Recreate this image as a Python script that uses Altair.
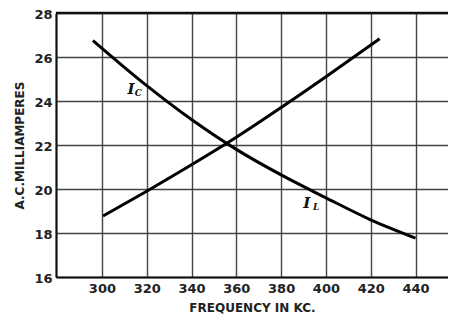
import altair as alt
import pandas as pd

# I_C curve (capacitor branch current)
ic_freq = [296, 320, 340, 360, 380, 400, 420, 440]
ic_ma = [26.75, 24.7, 23.16, 21.8, 20.64, 19.6, 18.6, 17.77]

# I_L curve (inductor branch current)
il_freq = [300.5, 320, 340, 360, 380, 400, 424]
il_ma = [18.77, 19.9, 21.1, 22.35, 23.7, 25.1, 26.83]

x_ticks = [300, 320, 340, 360, 380, 400, 420, 440]
y_ticks = [16, 18, 20, 22, 24, 26, 28]

# curve labels: main letter and subscript
lab_main = ["I", "I"]
lab_sub = ["C", "L"]
lab_x = [313, 391.4]
lab_y = [24.53, 19.37]
sub_x = [316.3, 395.6]
sub_y = [24.36, 19.2]

curves = pd.DataFrame(
    {"f": ic_freq + il_freq,
     "ma": ic_ma + il_ma,
     "s": ["IC"] * len(ic_freq) + ["IL"] * len(il_freq)}
)
labels = pd.DataFrame({"f": lab_x, "ma": lab_y, "t": lab_main})
subs = pd.DataFrame({"f": sub_x, "ma": sub_y, "t": lab_sub})

xs = alt.Scale(domain=[279.5, 454.5], nice=False, zero=False)
ys = alt.Scale(domain=[16, 28], nice=False, zero=False)

base_font = "DejaVu Sans"

x_axis = alt.Axis(values=x_ticks, title="FREQUENCY IN KC.", ticks=False,
                  labelPadding=5, labelFont=base_font, labelFontSize=13,
                  labelFontWeight="bold", labelColor="#222",
                  titleFont=base_font, titleFontSize=12, titleFontWeight="bold",
                  titleColor="#222", titlePadding=7,
                  grid=True, gridColor="#444", gridWidth=1.4,
                  domainColor="#111", domainWidth=2.2)
y_axis = alt.Axis(values=y_ticks, title="A.C.MILLIAMPERES", ticks=False,
                  labelPadding=4, labelOffset=1.5, labelFont=base_font,
                  labelFontSize=13,
                  labelFontWeight="bold", labelColor="#222",
                  titleFont=base_font, titleFontSize=12, titleFontWeight="bold",
                  titleColor="#222", titlePadding=7,
                  grid=True, gridColor="#444", gridWidth=1.4,
                  domainColor="#111", domainWidth=2.2)

lines = alt.Chart(curves).mark_line(color="black", strokeWidth=3,
                                    interpolate="monotone").encode(
    x=alt.X("f:Q", scale=xs, axis=x_axis),
    y=alt.Y("ma:Q", scale=ys, axis=y_axis),
    detail="s:N",
)

top = alt.Chart(pd.DataFrame({"ma": [28]})).mark_rule(
    color="#111", strokeWidth=2.5).encode(y=alt.Y("ma:Q", scale=ys))

main_txt = alt.Chart(labels).mark_text(
    font="DejaVu Serif", fontSize=15, fontStyle="italic", fontWeight="bold",
    color="#111").encode(
    x=alt.X("f:Q", scale=xs), y=alt.Y("ma:Q", scale=ys), text="t:N")

sub_txt = alt.Chart(subs).mark_text(
    font="DejaVu Serif", fontSize=9, fontStyle="italic", fontWeight="bold",
    color="#111").encode(
    x=alt.X("f:Q", scale=xs), y=alt.Y("ma:Q", scale=ys), text="t:N")

chart = alt.layer(top, lines, main_txt, sub_txt).properties(
    width=392, height=264,
    autosize=alt.AutoSizeParams(type="none"),
    padding={"left": 48, "top": 5, "right": 0, "bottom": 40},
    background="white",
).configure_view(stroke=None)

chart.save("out.html", embed_options={"renderer": "svg", "actions": False})
